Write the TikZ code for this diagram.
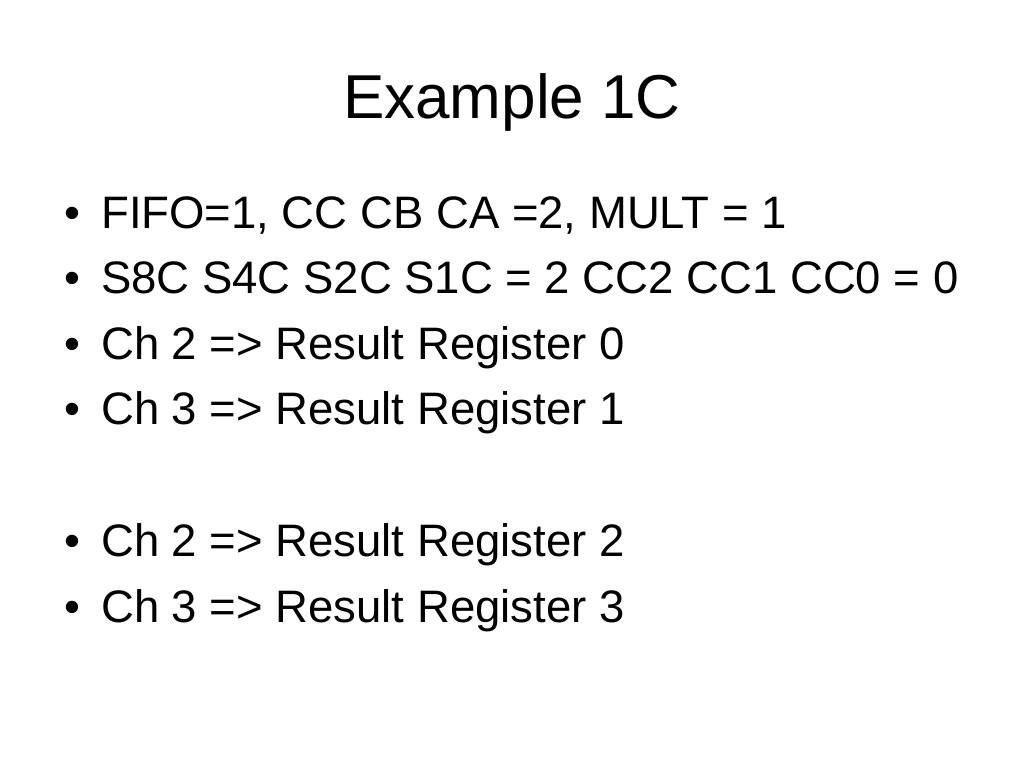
\documentclass[tikz,border=0pt]{standalone}
\usepackage{fontspec}
\setmainfont{Liberation Sans}
\usepackage{tikz}

\tikzset{
    title/.style={font=\fontsize{62}{70}\selectfont, anchor=base, inner sep=0pt},
    item/.style={font=\fontsize{45.5}{52}\selectfont, anchor=base west, inner sep=0pt},
    dot/.style={font=\fontsize{45.5}{52}\selectfont, anchor=base west, inner sep=0pt}
}

\begin{document}
\begin{tikzpicture}[x=1pt,y=1pt]
    \useasboundingbox (0,0) rectangle (1024,768);
    \fill[white] (0,0) rectangle (1024,768);

    \node[title] (T) at (512,649) {Example 1C};

    \node[dot] (B1) at (64,539) {\textbullet};
    \node[item] (L1) at (101,539) {FIFO=1, CC CB CA =2, MULT = 1};
    \node[dot] (B2) at (64,474) {\textbullet};
    \node[item] (L2) at (101,474) {S8C S4C S2C S1C = 2 CC2 CC1 CC0 = 0};
    \node[dot] (B3) at (64,408) {\textbullet};
    \node[item] (L3) at (101,408) {Ch 2 => Result Register 0};
    \node[dot] (B4) at (64,343) {\textbullet};
    \node[item] (L4) at (101,343) {Ch 3 => Result Register 1};

    \node[dot] (B5) at (64,211) {\textbullet};
    \node[item] (L5) at (101,211) {Ch 2 => Result Register 2};
    \node[dot] (B6) at (64,146) {\textbullet};
    \node[item] (L6) at (101,146) {Ch 3 => Result Register 3};
\end{tikzpicture}
\end{document}
